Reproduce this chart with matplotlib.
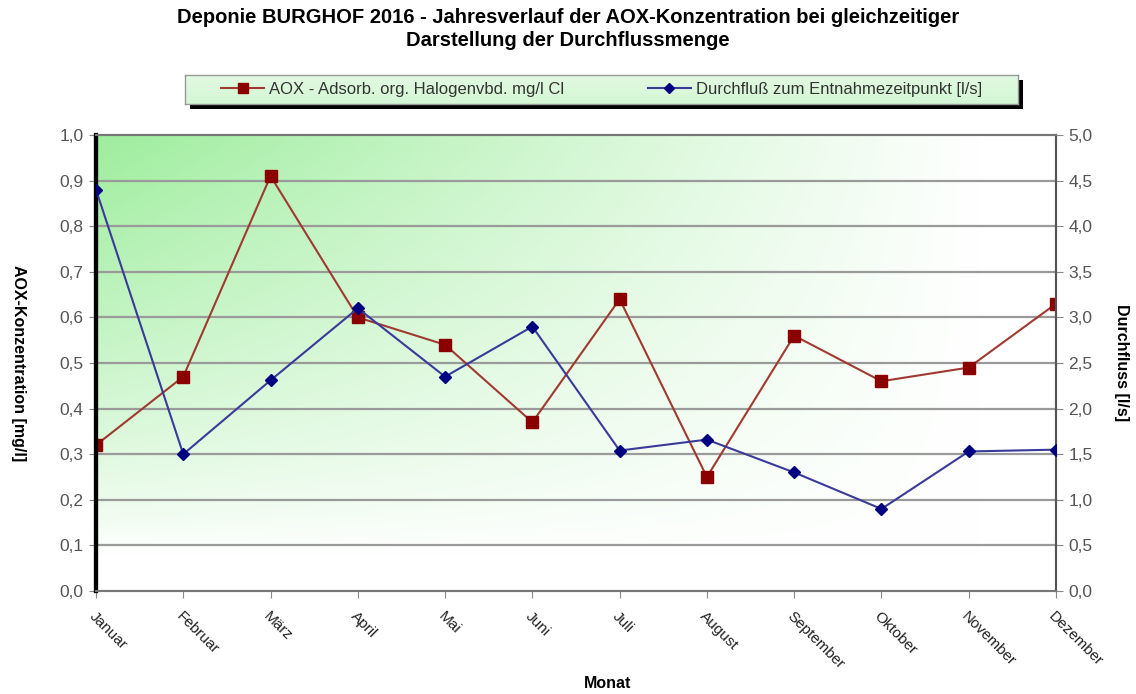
import numpy as np
import matplotlib
matplotlib.use("Agg")
import matplotlib.pyplot as plt
from matplotlib.lines import Line2D
from matplotlib.patches import Rectangle

months = ["Januar", "Februar", "März", "April", "Mai", "Juni", "Juli",
          "August", "September", "Oktober", "November", "Dezember"]
aox = [0.32, 0.47, 0.91, 0.60, 0.54, 0.37, 0.64, 0.25, 0.56, 0.46, 0.49, 0.63]
flow = [4.40, 1.50, 2.31, 3.10, 2.35, 2.90, 1.54, 1.66, 1.30, 0.90, 1.53, 1.55]
left_ticks = [0.0, 0.1, 0.2, 0.3, 0.4, 0.5, 0.6, 0.7, 0.8, 0.9, 1.0]
right_ticks = [0.0, 0.5, 1.0, 1.5, 2.0, 2.5, 3.0, 3.5, 4.0, 4.5, 5.0]

title = ("Deponie BURGHOF 2016 - Jahresverlauf der AOX-Konzentration bei gleichzeitiger\n"
         "Darstellung der Durchflussmenge")
lab_aox = "AOX - Adsorb. org. Halogenvbd. mg/l Cl"
lab_flow = "Durchfluß zum Entnahmezeitpunkt [l/s]"

plt.rcParams['font.family'] = ['Liberation Sans', 'DejaVu Sans']

W, H = 1136, 694
fig = plt.figure(figsize=(W / 100, H / 100), dpi=100)

ax = fig.add_axes([96 / W, 1 - 591 / H, (1056 - 96) / W, (591 - 135) / H])

# gradient background (green at top-left fading to white)
nx, ny = 400, 250
X, Y = np.meshgrid(np.linspace(0, 1, nx), np.linspace(0, 1, ny))  # Y = 0 top
tx = np.clip(1 - X / 0.92, 0, 1) ** 1.0
ty = np.clip(1 - Y / 0.92, 0, 1) ** 0.8
t = tx * ty
green = np.array([0.62, 0.93, 0.62])
white = np.array([1.0, 1.0, 1.0])
img = white[None, None, :] * (1 - t[..., None]) + green[None, None, :] * t[..., None]
ax.imshow(img, extent=[0, 1, 0, 1], transform=ax.transAxes, aspect='auto', zorder=0)

x = np.arange(len(months))
ax.set_xlim(0, len(months) - 1)
ax.set_ylim(0, 1.0)
ax.set_yticks(left_ticks)
ax.set_yticklabels([f"{v:.1f}".replace(".", ",") for v in left_ticks])
for v in left_ticks[1:-1]:
    ax.axhline(v, color="#9a9a9a", lw=1.6, zorder=1)

ax.plot(x, aox, color="#a03a30", lw=1.5, marker="s", ms=8,
        mfc="#8b0000", mec="#8b0000", zorder=4)

ax2 = ax.twinx()
ax2.set_ylim(0, 5.0)
ax2.set_yticks(right_ticks)
ax2.set_yticklabels([f"{v:.1f}".replace(".", ",") for v in right_ticks])
ax2.plot(x, flow, color="#3a3a9a", lw=1.5, marker="D", ms=6,
         mfc="#000080", mec="#000080", zorder=4)

ax.set_xticks(x)
ax.set_xticklabels(months, rotation=-45, ha="left", va="top", rotation_mode="anchor",
                   fontsize=11, color="#222222")
ax.tick_params(axis="x", direction="out", length=5, color="#888888", pad=8)
ax.tick_params(axis="y", direction="out", length=5, color="#888888",
               labelsize=12.5, labelcolor="#555555", pad=4)
ax2.tick_params(axis="y", direction="out", length=5, color="#888888",
                labelsize=12.5, labelcolor="#555555", pad=4)

for a in (ax, ax2):
    a.spines["top"].set_color("#777777")
    a.spines["top"].set_linewidth(1.5)
    a.spines["bottom"].set_color("#777777")
    a.spines["bottom"].set_linewidth(1.5)
    a.spines["right"].set_color("#555555")
    a.spines["right"].set_linewidth(1.5)
    a.spines["left"].set_color("black")
    a.spines["left"].set_linewidth(3)

ax.set_ylabel("AOX-Konzentration [mg/l]", rotation=-90, fontsize=11.5,
              fontweight="bold", va="center")
ax.yaxis.set_label_coords(-78 / (1056 - 96), 0.5)
ax2.set_ylabel("Durchfluss [l/s]", rotation=-90, fontsize=11.5,
               fontweight="bold", va="center")
ax2.yaxis.set_label_coords(1 + (1122 - 1056) / (1056 - 96), 0.5)
ax.set_xlabel("Monat", fontsize=11.5, fontweight="bold", va="center")
ax.xaxis.set_label_coords(0.533, -(683 - 591) / (591 - 135))

fig.text(0.5, 1 - 29 / H, title, ha="center", va="center", fontsize=14.5,
         fontweight="bold", linespacing=1.25)

# legend box with shadow and gradient
lx0, lx1, ly0, ly1 = 185, 1018, 75, 104
shadow = Rectangle(((lx0 + 5) / W, 1 - (ly1 + 5) / H), (lx1 - lx0) / W,
                   (ly1 - ly0) / H, transform=fig.transFigure,
                   facecolor="black", edgecolor="none", zorder=0)
fig.patches.append(shadow)
lax = fig.add_axes([lx0 / W, 1 - ly1 / H, (lx1 - lx0) / W, (ly1 - ly0) / H])
lax.set_zorder(5)
LX, LY = np.meshgrid(np.linspace(0, 1, 400), np.linspace(0, 1, 100))
lt = np.clip(0.30 + 0.15 * LY, 0, 1)
limg = white[None, None, :] * (1 - lt[..., None]) + green[None, None, :] * lt[..., None]
lax.imshow(limg, extent=[0, 1, 0, 1], aspect='auto')
lax.set_xticks([])
lax.set_yticks([])
for s in lax.spines.values():
    s.set_color("#999999")
    s.set_linewidth(1)
h1 = Line2D([], [], color="#a03a30", lw=1.5, marker="s", ms=7, mfc="#8b0000", mec="#8b0000")
h2 = Line2D([], [], color="#3a3a9a", lw=1.5, marker="D", ms=5, mfc="#000080", mec="#000080")
lax.legend([h1, h2], [lab_aox, lab_flow], ncol=2, loc="center", frameon=False,
           fontsize=12, handlelength=2.6, columnspacing=5.0, handletextpad=0.3,
           labelcolor="#333333", bbox_to_anchor=(0.5, 0.5))

fig.savefig("out.png", dpi=100)
